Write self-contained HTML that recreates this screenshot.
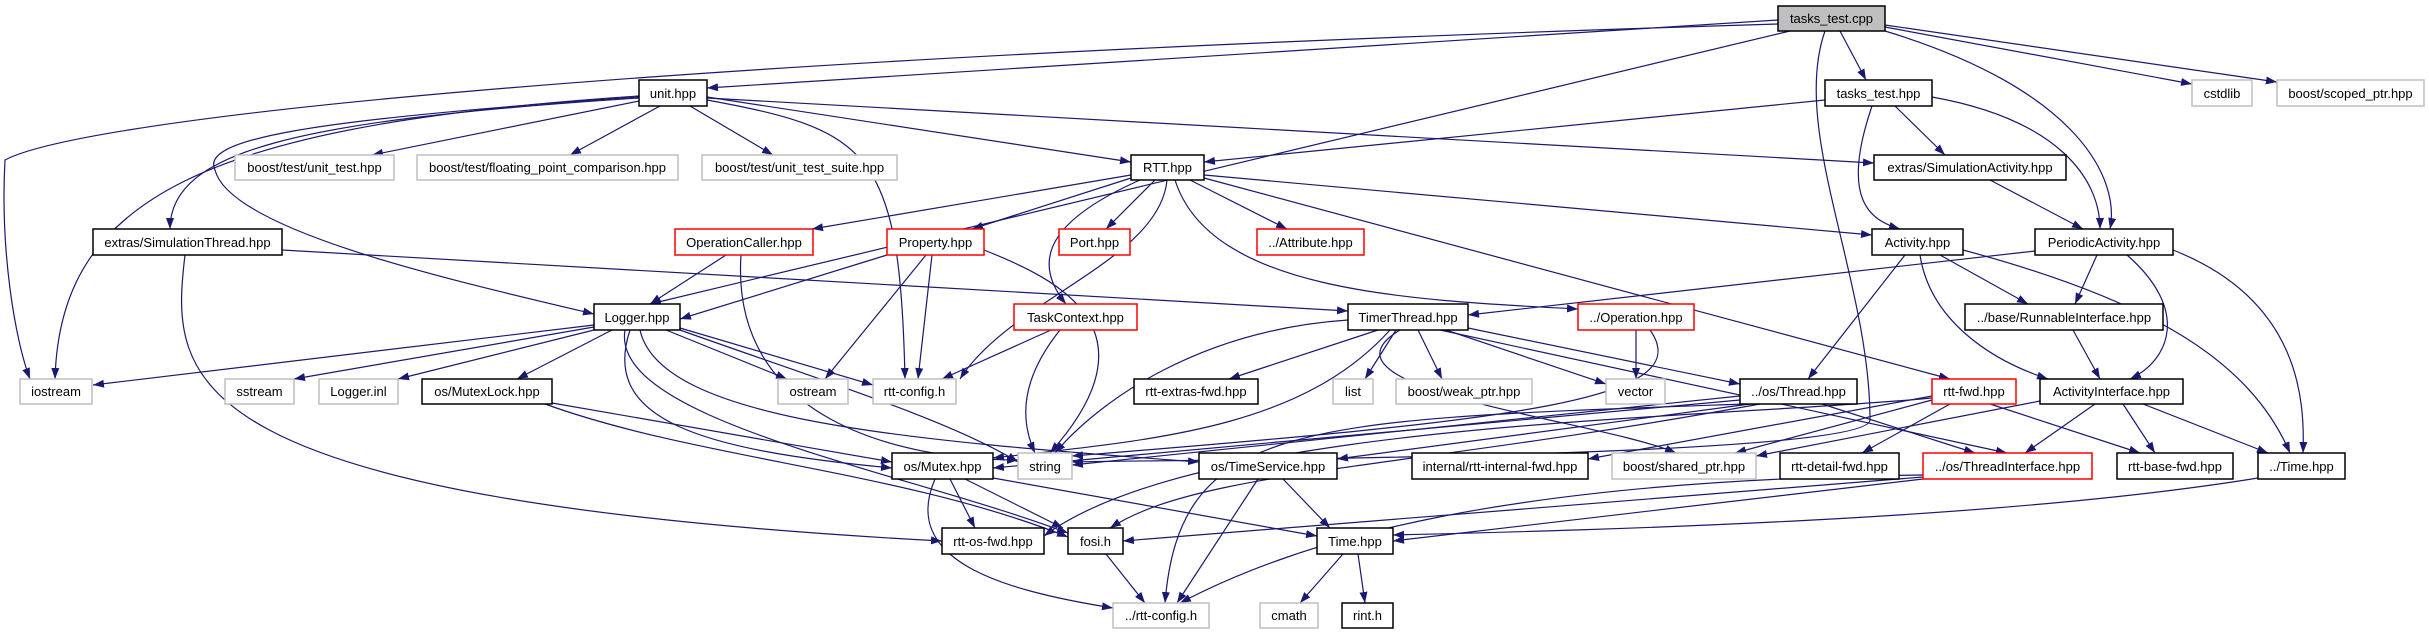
<!DOCTYPE html>
<html><head><meta charset="utf-8"><style>
html,body{margin:0;padding:0;background:#fff}
svg{display:block}
text{font-family:"Liberation Sans",sans-serif;font-size:13px;fill:#000}
.e{fill:none;stroke:#191970;stroke-width:1.2}
.b{fill:#fff;stroke:#000;stroke-width:1.5}
.g{fill:#fff;stroke:#bfbfbf;stroke-width:1.5}
.r{fill:#fff;stroke:#ff0000;stroke-width:1.5}
</style></head><body>
<svg width="2429" height="635" viewBox="0 0 2429 635" xmlns="http://www.w3.org/2000/svg">
<defs><marker id="a" markerWidth="11" markerHeight="10" refX="11" refY="5" orient="auto" markerUnits="userSpaceOnUse"><path d="M0,1 L11,5 L0,9z" fill="#191970"/></marker></defs>
<g marker-end="url(#a)">
<path class="e" d="M1778,24 C600,60 80,120 5,160 C0,250 15,340 30,379"/>
<path class="e" d="M1778,20 L707,88"/>
<path class="e" d="M1790,31 L650,304"/>
<path class="e" d="M1840,31 L1866,80"/>
<path class="e" d="M1885,27 L2192,84"/>
<path class="e" d="M1885,25 L2277,82"/>
<path class="e" d="M1885,31 C2080,90 2120,180 2110,229"/>
<path class="e" d="M1825,31 C1790,130 1870,280 1870,420 C1870,460 1100,460 1072,462"/>
<path class="e" d="M639,101 L372,155"/>
<path class="e" d="M660,106 L570,155"/>
<path class="e" d="M690,106 L773,155"/>
<path class="e" d="M707,97 L1131,162"/>
<path class="e" d="M639,98 C300,120 170,150 170,229"/>
<path class="e" d="M639,97 C300,120 200,140 215,170 C230,230 450,280 594,314"/>
<path class="e" d="M639,96 C200,125 60,200 55,379"/>
<path class="e" d="M707,100 C870,130 900,150 905,379"/>
<path class="e" d="M707,98 L1874,163"/>
<path class="e" d="M1825,100 L1204,162"/>
<path class="e" d="M1895,106 L1945,155"/>
<path class="e" d="M1872,106 C1840,200 1870,220 1900,229"/>
<path class="e" d="M1932,97 C2060,120 2100,180 2100,229"/>
<path class="e" d="M1990,180 L2083,229"/>
<path class="e" d="M1131,175 L812,229"/>
<path class="e" d="M1131,178 L972,229"/>
<path class="e" d="M1155,180 L1106,229"/>
<path class="e" d="M1190,180 L1287,229"/>
<path class="e" d="M1140,180 C1050,220 1030,260 1066,304"/>
<path class="e" d="M1167,180 C1160,260 1010,300 960,379"/>
<path class="e" d="M1175,180 C1210,290 1400,300 1578,309"/>
<path class="e" d="M1204,175 L1872,235"/>
<path class="e" d="M1204,178 L1950,379"/>
<path class="e" d="M282,250 L1348,311"/>
<path class="e" d="M185,255 C170,380 170,500 942,541"/>
<path class="e" d="M726,255 L650,304"/>
<path class="e" d="M741,255 C730,420 900,460 1018,460"/>
<path class="e" d="M887,255 L680,319"/>
<path class="e" d="M926,255 L825,379"/>
<path class="e" d="M932,255 L918,379"/>
<path class="e" d="M984,250 C1060,280 1160,330 1050,453"/>
<path class="e" d="M1051,330 L942,379"/>
<path class="e" d="M1060,330 C1020,380 1020,420 1035,453"/>
<path class="e" d="M594,325 L93,385"/>
<path class="e" d="M594,327 L294,379"/>
<path class="e" d="M594,330 L398,379"/>
<path class="e" d="M612,330 L517,379"/>
<path class="e" d="M666,330 L787,379"/>
<path class="e" d="M680,328 L873,385"/>
<path class="e" d="M680,330 C820,380 950,420 1018,462"/>
<path class="e" d="M630,330 C600,420 700,450 892,468"/>
<path class="e" d="M640,330 C660,420 900,440 1199,462"/>
<path class="e" d="M625,330 C610,420 900,470 1068,533"/>
<path class="e" d="M552,403 L892,462"/>
<path class="e" d="M545,404 C700,460 900,470 1068,537"/>
<path class="e" d="M1378,330 L1229,379"/>
<path class="e" d="M1396,330 L1365,379"/>
<path class="e" d="M1418,330 L1442,379"/>
<path class="e" d="M1446,330 L1606,384"/>
<path class="e" d="M1468,328 L1740,384"/>
<path class="e" d="M1348,320 C1200,330 1100,400 1055,453"/>
<path class="e" d="M1390,330 C1300,430 1150,440 993,458"/>
<path class="e" d="M1400,330 C1300,390 1600,420 1676,453"/>
<path class="e" d="M1440,330 L2007,453"/>
<path class="e" d="M1636,330 L1636,379"/>
<path class="e" d="M1650,330 C1700,400 1520,420 1072,456"/>
<path class="e" d="M1905,255 L1808,379"/>
<path class="e" d="M1920,255 C1930,320 1990,360 2048,379"/>
<path class="e" d="M1940,255 L2028,304"/>
<path class="e" d="M1963,250 C2150,300 2250,360 2290,453"/>
<path class="e" d="M2035,251 L1468,315"/>
<path class="e" d="M2097,255 L2075,304"/>
<path class="e" d="M2127,255 C2190,310 2170,360 2130,379"/>
<path class="e" d="M2173,250 C2300,300 2305,400 2303,453"/>
<path class="e" d="M2073,330 L2100,379"/>
<path class="e" d="M1740,396 L1072,465"/>
<path class="e" d="M1740,400 L993,468"/>
<path class="e" d="M1750,404 L1337,459"/>
<path class="e" d="M1822,404 L1975,453"/>
<path class="e" d="M1745,404 C1300,420 1180,420 1165,603"/>
<path class="e" d="M1760,404 C1400,470 1200,470 1110,528"/>
<path class="e" d="M1932,400 L1735,453"/>
<path class="e" d="M1950,404 L1862,453"/>
<path class="e" d="M1990,404 L2140,453"/>
<path class="e" d="M1932,396 L1588,459"/>
<path class="e" d="M1932,398 C1700,420 1200,420 1044,536"/>
<path class="e" d="M2040,401 L1756,456"/>
<path class="e" d="M2095,404 L2025,453"/>
<path class="e" d="M2123,404 L2155,453"/>
<path class="e" d="M2143,404 L2268,453"/>
<path class="e" d="M1923,477 L1123,541"/>
<path class="e" d="M1923,479 L1393,541"/>
<path class="e" d="M1923,475 C1500,480 1300,540 1180,603"/>
<path class="e" d="M2258,478 C2000,520 1600,530 1393,535"/>
<path class="e" d="M950,479 L975,528"/>
<path class="e" d="M965,479 L1063,528"/>
<path class="e" d="M993,478 L1317,536"/>
<path class="e" d="M935,479 C900,560 1000,590 1113,608"/>
<path class="e" d="M1258,479 L1177,603"/>
<path class="e" d="M1283,479 L1330,528"/>
<path class="e" d="M1106,554 L1145,603"/>
<path class="e" d="M1343,554 L1300,603"/>
<path class="e" d="M1358,554 L1365,603"/>
</g>
<g>
<rect x="1778" y="6" width="107" height="25" fill="#bfbfbf" stroke="#000" stroke-width="1.5"/><text x="1831.5" y="23" text-anchor="middle">tasks_test.cpp</text>
<rect class="b" x="639" y="80" width="68" height="26"/><text x="673" y="98" text-anchor="middle">unit.hpp</text>
<rect class="b" x="1825" y="80" width="107" height="26"/><text x="1878.5" y="98" text-anchor="middle">tasks_test.hpp</text>
<rect class="g" x="2192" y="80" width="60" height="26"/><text x="2222" y="98" text-anchor="middle">cstdlib</text>
<rect class="g" x="2277" y="80" width="147" height="26"/><text x="2350.5" y="98" text-anchor="middle">boost/scoped_ptr.hpp</text>
<rect class="g" x="235" y="155" width="159" height="25"/><text x="314.5" y="172" text-anchor="middle">boost/test/unit_test.hpp</text>
<rect class="g" x="417" y="155" width="261" height="25"/><text x="547.5" y="172" text-anchor="middle">boost/test/floating_point_comparison.hpp</text>
<rect class="g" x="702" y="155" width="195" height="25"/><text x="799.5" y="172" text-anchor="middle">boost/test/unit_test_suite.hpp</text>
<rect class="b" x="1131" y="155" width="73" height="25"/><text x="1167.5" y="172" text-anchor="middle">RTT.hpp</text>
<rect class="b" x="1874" y="155" width="192" height="25"/><text x="1970" y="172" text-anchor="middle">extras/SimulationActivity.hpp</text>
<rect class="b" x="93" y="229" width="189" height="26"/><text x="187.5" y="247" text-anchor="middle">extras/SimulationThread.hpp</text>
<rect class="r" x="675" y="229" width="138" height="26"/><text x="744" y="247" text-anchor="middle">OperationCaller.hpp</text>
<rect class="r" x="887" y="229" width="97" height="26"/><text x="935.5" y="247" text-anchor="middle">Property.hpp</text>
<rect class="r" x="1059" y="229" width="71" height="26"/><text x="1094.5" y="247" text-anchor="middle">Port.hpp</text>
<rect class="r" x="1257" y="229" width="107" height="26"/><text x="1310.5" y="247" text-anchor="middle">../Attribute.hpp</text>
<rect class="b" x="1872" y="229" width="91" height="26"/><text x="1917.5" y="247" text-anchor="middle">Activity.hpp</text>
<rect class="b" x="2035" y="229" width="138" height="26"/><text x="2104" y="247" text-anchor="middle">PeriodicActivity.hpp</text>
<rect class="b" x="594" y="304" width="86" height="26"/><text x="637" y="322" text-anchor="middle">Logger.hpp</text>
<rect class="r" x="1014" y="304" width="123" height="26"/><text x="1075.5" y="322" text-anchor="middle">TaskContext.hpp</text>
<rect class="b" x="1348" y="304" width="120" height="26"/><text x="1408" y="322" text-anchor="middle">TimerThread.hpp</text>
<rect class="r" x="1578" y="304" width="116" height="26"/><text x="1636" y="322" text-anchor="middle">../Operation.hpp</text>
<rect class="b" x="1965" y="304" width="198" height="26"/><text x="2064" y="322" text-anchor="middle">../base/RunnableInterface.hpp</text>
<rect class="g" x="20" y="379" width="72" height="25"/><text x="56" y="396" text-anchor="middle">iostream</text>
<rect class="g" x="225" y="379" width="69" height="25"/><text x="259.5" y="396" text-anchor="middle">sstream</text>
<rect class="g" x="319" y="379" width="79" height="25"/><text x="358.5" y="396" text-anchor="middle">Logger.inl</text>
<rect class="b" x="422" y="379" width="130" height="25"/><text x="487" y="396" text-anchor="middle">os/MutexLock.hpp</text>
<rect class="g" x="778" y="379" width="70" height="25"/><text x="813" y="396" text-anchor="middle">ostream</text>
<rect class="g" x="873" y="379" width="83" height="25"/><text x="914.5" y="396" text-anchor="middle">rtt-config.h</text>
<rect class="b" x="1134" y="379" width="124" height="25"/><text x="1196" y="396" text-anchor="middle">rtt-extras-fwd.hpp</text>
<rect class="g" x="1333" y="379" width="40" height="25"/><text x="1353" y="396" text-anchor="middle">list</text>
<rect class="g" x="1396" y="379" width="136" height="25"/><text x="1464" y="396" text-anchor="middle">boost/weak_ptr.hpp</text>
<rect class="g" x="1606" y="379" width="59" height="25"/><text x="1635.5" y="396" text-anchor="middle">vector</text>
<rect class="b" x="1740" y="379" width="117" height="25"/><text x="1798.5" y="396" text-anchor="middle">../os/Thread.hpp</text>
<rect class="r" x="1932" y="379" width="84" height="25"/><text x="1974" y="396" text-anchor="middle">rtt-fwd.hpp</text>
<rect class="b" x="2040" y="379" width="143" height="25"/><text x="2111.5" y="396" text-anchor="middle">ActivityInterface.hpp</text>
<rect class="b" x="892" y="453" width="101" height="26"/><text x="942.5" y="471" text-anchor="middle">os/Mutex.hpp</text>
<rect class="g" x="1018" y="453" width="54" height="26"/><text x="1045" y="471" text-anchor="middle">string</text>
<rect class="b" x="1199" y="453" width="138" height="26"/><text x="1268" y="471" text-anchor="middle">os/TimeService.hpp</text>
<rect class="b" x="1412" y="453" width="176" height="26"/><text x="1500" y="471" text-anchor="middle">internal/rtt-internal-fwd.hpp</text>
<rect class="g" x="1612" y="453" width="144" height="26"/><text x="1684" y="471" text-anchor="middle">boost/shared_ptr.hpp</text>
<rect class="b" x="1780" y="453" width="119" height="26"/><text x="1839.5" y="471" text-anchor="middle">rtt-detail-fwd.hpp</text>
<rect class="r" x="1923" y="453" width="169" height="26"/><text x="2007.5" y="471" text-anchor="middle">../os/ThreadInterface.hpp</text>
<rect class="b" x="2117" y="453" width="116" height="26"/><text x="2175" y="471" text-anchor="middle">rtt-base-fwd.hpp</text>
<rect class="b" x="2258" y="453" width="87" height="26"/><text x="2301.5" y="471" text-anchor="middle">../Time.hpp</text>
<rect class="b" x="942" y="528" width="102" height="26"/><text x="993" y="546" text-anchor="middle">rtt-os-fwd.hpp</text>
<rect class="b" x="1068" y="528" width="55" height="26"/><text x="1095.5" y="546" text-anchor="middle">fosi.h</text>
<rect class="b" x="1317" y="528" width="76" height="26"/><text x="1355" y="546" text-anchor="middle">Time.hpp</text>
<rect class="g" x="1113" y="603" width="96" height="25"/><text x="1161" y="620" text-anchor="middle">../rtt-config.h</text>
<rect class="g" x="1260" y="603" width="58" height="25"/><text x="1289" y="620" text-anchor="middle">cmath</text>
<rect class="b" x="1342" y="603" width="51" height="25"/><text x="1367.5" y="620" text-anchor="middle">rint.h</text>
</g>
</svg>
</body></html>
